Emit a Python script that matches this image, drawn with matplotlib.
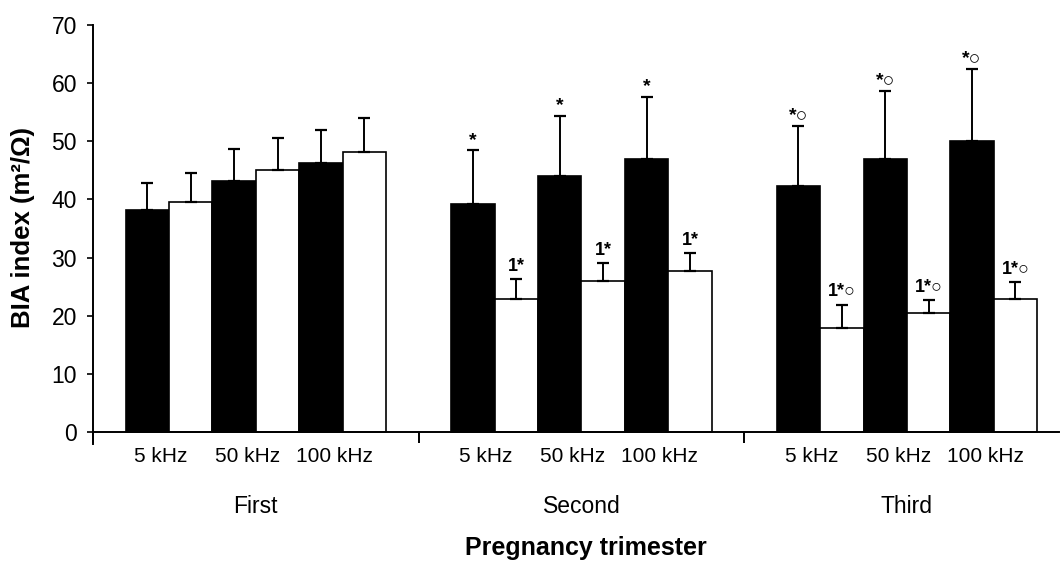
import numpy as np
import matplotlib
matplotlib.use("Agg")
import matplotlib.pyplot as plt

plt.rcParams['font.family'] = ['Liberation Sans', 'DejaVu Sans']

trimesters = ['First', 'Second', 'Third']
freqs = ['5 kHz', '50 kHz', '100 kHz']

# mean values (black and white bars), one row per trimester, one column per frequency
black_means = np.array([[38.2, 43.2, 46.2],
                        [39.2, 44.1, 47.0],
                        [42.3, 47.0, 50.1]])
white_means = np.array([[39.5, 45.0, 48.1],
                        [22.9, 26.0, 27.7],
                        [17.9, 20.5, 22.9]])
# SD (upper error only)
black_sd = np.array([[4.7, 5.5, 5.8],
                     [9.3, 10.3, 10.7],
                     [10.4, 11.7, 12.4]])
white_sd = np.array([[5.1, 5.6, 5.9],
                     [3.4, 3.1, 3.1],
                     [4.0, 2.2, 2.9]])
# significance marks
black_marks = [['', '', ''], ['*', '*', '*'], ['*○', '*○', '*○']]
white_marks = [['', '', ''], ['1*', '1*', '1*'], ['1*○', '1*○', '1*○']]

fig = plt.figure(figsize=(10.61, 5.63), dpi=100)
ax = fig.add_axes([0.0877, 0.2121, 0.9103, 0.7435])

group_step = 7.5
ekw = dict(ecolor='black', elinewidth=1.4, capsize=4.5, capthick=1.6)
for g in range(3):
    start = g * group_step
    for f in range(3):
        xb = start + 2 * f + 0.5
        xw = xb + 1
        ax.bar(xb, black_means[g, f], width=1, color='black', edgecolor='black',
               linewidth=1.2, zorder=2)
        ax.bar(xw, white_means[g, f], width=1, color='white', edgecolor='black',
               linewidth=1.2, zorder=2)
        ax.errorbar(xb, black_means[g, f], yerr=[[0], [black_sd[g, f]]], fmt='none',
                    zorder=1, **ekw)
        ax.errorbar(xw, white_means[g, f], yerr=[[0], [white_sd[g, f]]], fmt='none',
                    zorder=3, **ekw)
        if black_marks[g][f]:
            ax.annotate(black_marks[g][f], (xb, black_means[g, f] + black_sd[g, f]),
                        xytext=(0, 1), textcoords='offset points', ha='center',
                        va='bottom', fontsize=14, fontweight='bold')
        if white_marks[g][f]:
            ax.annotate(white_marks[g][f], (xw, white_means[g, f] + white_sd[g, f]),
                        xytext=(0, 3), textcoords='offset points', ha='center',
                        va='bottom', fontsize=13, fontweight='bold')
        ax.text(start + 2 * f + 0.8, -4.3, freqs[f], ha='center', va='center',
                fontsize=15)
    ax.text(start + 3, -12.9, trimesters[g], ha='center', va='center', fontsize=16.5)

ax.text(10.6, -20.0, 'Pregnancy trimester', ha='center', va='center',
        fontsize=18, fontweight='bold')
fig.text(0.022, 1 - 228 / 563, 'BIA index (m²/Ω)', rotation=90, ha='center',
         va='center', fontsize=18.5, fontweight='bold')

ax.set_xlim(-0.75, 21.5)
ax.set_ylim(-2, 70)
ax.set_yticks(np.arange(0, 71, 10))
ax.set_xticks([-0.75, 6.75, 14.25])
ax.set_xticklabels([])
ax.tick_params(axis='y', direction='out', length=4.5, width=1.2, labelsize=16.5, pad=7)
ax.tick_params(axis='x', direction='out', length=8, width=1.4)

for s in ['top', 'right']:
    ax.spines[s].set_visible(False)
ax.spines['bottom'].set_position(('data', 0))
ax.spines['bottom'].set_linewidth(1.4)
ax.spines['left'].set_linewidth(1.4)

fig.savefig('out.png', dpi=100)
